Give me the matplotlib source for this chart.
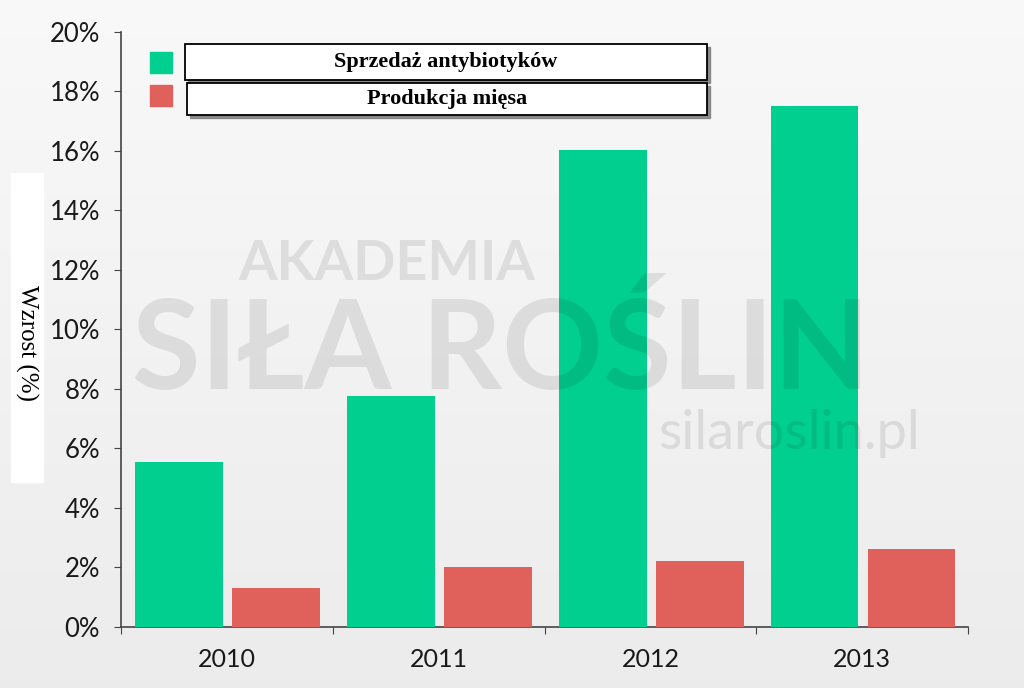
import matplotlib.pyplot as plt
import numpy as np
from matplotlib.patches import Rectangle

years = ['2010', '2011', '2012', '2013']
antybiotyki = [5.55, 7.75, 16.05, 17.5]
mieso = [1.3, 2.0, 2.22, 2.62]
series_names = ['Sprzedaż antybiotyków', 'Produkcja mięsa']
y_ticks = [0, 2, 4, 6, 8, 10, 12, 14, 16, 18, 20]

green = '#00cf8f'
red = '#e0605b'
sans = ['Lato', 'DejaVu Sans']
serif = ['Liberation Serif', 'DejaVu Serif']

fig = plt.figure(figsize=(10.24, 6.88), dpi=100)
fig.patch.set_facecolor('#f1f1f1')

# soft background gradient
bg = fig.add_axes([0, 0, 1, 1], zorder=-10)
grad = np.linspace(0.975, 0.925, 256).reshape(-1, 1)
bg.imshow(np.dstack([grad, grad, grad]), aspect='auto', extent=[0, 1, 0, 1])
bg.set_axis_off()

ax = fig.add_axes([0.1182, 0.0887, 0.8271, 0.8648])
ax.set_facecolor('none')

x = np.arange(len(years))
w = 0.415
ax.bar(x - 0.225, antybiotyki, width=w, color=green, zorder=3)
ax.bar(x + 0.233, mieso, width=w, color=red, zorder=3)

ax.set_xlim(-0.5, 3.5)
ax.set_ylim(0, 20)
ax.set_yticks(y_ticks)
ax.set_yticklabels([f'{t}%' for t in y_ticks], fontsize=18.5, family=sans, color='#1a1a1a')
ax.set_xticks(np.arange(-0.5, 4, 1))
ax.set_xticklabels([])
for i, yr in enumerate(years):
    ax.text(i, -1.1, yr, ha='center', va='center', fontsize=18, family=sans, color='#1a1a1a')

for s in ['top', 'right']:
    ax.spines[s].set_visible(False)
for s in ['left', 'bottom']:
    ax.spines[s].set_color('#444444')
    ax.spines[s].set_linewidth(1.2)
ax.tick_params(axis='y', length=5, color='#444444', pad=10)
ax.tick_params(axis='x', length=5, color='#444444')

# overlay in pixel coordinates
ov = fig.add_axes([0, 0, 1, 1], zorder=5)
ov.set_xlim(0, 1024)
ov.set_ylim(688, 0)
ov.set_axis_off()

# watermark (semi-transparent, over the bars)
ov.text(238, 264, 'AKADEMIA', fontsize=40, fontweight='bold', color='black', alpha=0.09,
        family=sans, ha='left', va='center')
ov.text(132, 352, 'SIŁA ROŚLIN', fontsize=90, fontweight='bold', color='black', alpha=0.09,
        family=sans, ha='left', va='center')
ov.text(920, 433, 'silaroslin.pl', fontsize=39, color='black', alpha=0.09,
        family=sans, ha='right', va='center')

# legend: colored squares + boxed labels with shadow
ov.add_patch(Rectangle((150, 52), 22, 21, color=green))
ov.add_patch(Rectangle((150, 85), 22, 21, color=red))
boxes = [(185, 44, 522, 36), (187, 83, 520, 32)]
for (bx, by, bw, bh), name in zip(boxes, series_names):
    ov.add_patch(Rectangle((bx + 3, by + 3), bw, bh, color='#8a8a8a'))
    ov.add_patch(Rectangle((bx, by), bw, bh, facecolor='white', edgecolor='black', lw=1.3))
    ov.text(bx + bw / 2, by + bh / 2, name, ha='center', va='center', fontsize=16,
            fontweight='bold', family=serif, color='black')

# y label on white strip
ov.add_patch(Rectangle((11, 173), 32, 309, color='white'))
ov.text(27, 343, 'Wzrost (%)', rotation=-90, ha='center', va='center', fontsize=18,
        family=serif, color='black')

fig.savefig('out.png', dpi=100, facecolor=fig.get_facecolor())
